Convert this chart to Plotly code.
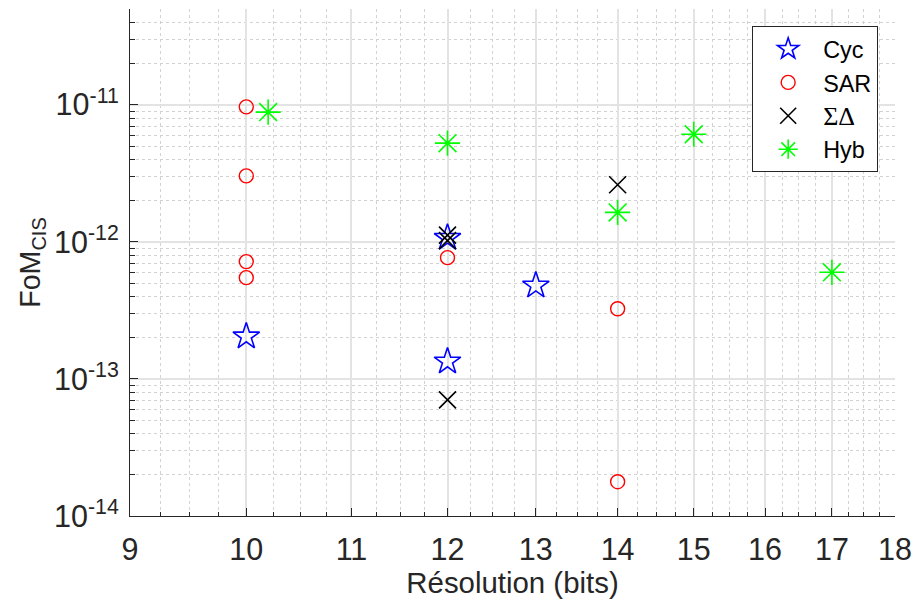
import numpy as np
import plotly.graph_objects as go

# Data
cyc_x = [10, 12, 12, 13]
cyc_y = [2.04e-13, 1.07e-12, 1.34e-13, 4.8e-13]

sar_x = [10, 10, 10, 10, 12, 14, 14]
sar_y = [9.66e-12, 3.03e-12, 7.18e-13, 5.48e-13, 7.67e-13, 3.25e-13, 1.78e-14]

sd_x = [12, 12, 12, 14]
sd_y = [1.12e-12, 1.02e-12, 7.03e-14, 2.61e-12]

hyb_x = [10.2, 12, 14, 15, 17]
hyb_y = [8.85e-12, 5.25e-12, 1.64e-12, 6.1e-12, 6.0e-13]

x_ticks = [9, 10, 11, 12, 13, 14, 15, 16, 17, 18]
y_ticks = [1e-14, 1e-13, 1e-12, 1e-11]
y_ticktext = ["10<sup>-14</sup>", "10<sup>-13</sup>", "10<sup>-12</sup>", "10<sup>-11</sup>"]

FONT = "Liberation Sans, Arial, Helvetica, sans-serif"
AX = "#262626"
TICK_SIZE = 30.5

fig = go.Figure()
fig.add_trace(go.Scatter(x=cyc_x, y=cyc_y, mode="markers", name="Cyc", legendgroup="a",
                         marker=dict(symbol="star-open", size=20, color="#0000ff",
                                     line=dict(width=1.6, color="#0000ff"))))
fig.add_trace(go.Scatter(x=sar_x, y=sar_y, mode="markers", name="SAR", legendgroup="b",
                         marker=dict(symbol="circle-open", size=14, color="#ff0000",
                                     line=dict(width=1.4, color="#ff0000"))))
fig.add_trace(go.Scatter(x=sd_x, y=sd_y, mode="markers", legendgroup="c",
                         name='<span style="font-family:Liberation Serif, Times New Roman, serif;font-size:26px">ΣΔ</span>',
                         marker=dict(symbol="x-thin-open", size=17, color="#000000",
                                     line=dict(width=1.6, color="#000000"))))
fig.add_trace(go.Scatter(x=hyb_x, y=hyb_y, mode="markers", name="Hyb", legendgroup="d",
                         marker=dict(symbol="asterisk-open", size=21, color="#00ff00",
                                     line=dict(width=1.6, color="#00ff00"))))

x_minor = [v for v in np.arange(9, 18.001, 0.25) if abs(v - round(v)) > 1e-9]
y_minor = [m * 10.0 ** e for e in range(-14, -10) for m in range(2, 10)]

fig.update_xaxes(type="log", range=[np.log10(9) - 1e-6, np.log10(18) + 1e-6],
                 tickmode="array", tickvals=x_ticks, ticktext=[str(v) for v in x_ticks],
                 ticks="inside", ticklen=8, tickwidth=1, tickcolor=AX,
                 showline=True, linecolor=AX, linewidth=1.2, mirror=False,
                 showgrid=True, gridcolor="#e3e3e3", gridwidth=1.5,
                 tickfont=dict(family=FONT, size=TICK_SIZE, color=AX),
                 ticklabelstandoff=6, automargin=False,
                 title=dict(text="Résolution (bits)", font=dict(family=FONT, size=29.4, color=AX),
                            standoff=5),
                 zeroline=False,
                 minor=dict(tickvals=x_minor, ticks="inside", ticklen=4, tickcolor=AX,
                            showgrid=True, gridcolor="#d2d2d2", griddash="dot", gridwidth=1))
fig.update_yaxes(type="log", range=[-14 - 1e-6, np.log10(5e-11)],
                 tickmode="array", tickvals=y_ticks, ticktext=y_ticktext,
                 ticks="inside", ticklen=8, tickwidth=1, tickcolor=AX,
                 showline=True, linecolor=AX, linewidth=1.2, mirror=False,
                 showgrid=True, gridcolor="#e3e3e3", gridwidth=1.5,
                 tickfont=dict(family=FONT, size=TICK_SIZE, color=AX),
                 ticklabelstandoff=4, automargin=False,
                 title=dict(text="FoM<sub>CIS</sub>", font=dict(family=FONT, size=28.6, color=AX),
                            standoff=4),
                 zeroline=False,
                 minor=dict(tickvals=y_minor, ticks="inside", ticklen=5, tickcolor=AX,
                            showgrid=True, gridcolor="#d2d2d2", griddash="dot", gridwidth=1))

fig.update_layout(
    width=914, height=606,
    margin=dict(l=130, r=19, t=9, b=90, autoexpand=False),
    paper_bgcolor="white", plot_bgcolor="white",
    font=dict(family=FONT, size=26, color="#000000"),
    showlegend=True,
    legend=dict(x=0.978, y=0.966, xanchor="right", yanchor="top",
                bgcolor="white", bordercolor=AX, borderwidth=1,
                font=dict(family=FONT, size=23.4, color="#000000"),
                itemsizing="trace", traceorder="grouped", tracegroupgap=0,
                itemwidth=60),
)

fig.write_html("out.html", config={"displayModeBar": False},
               post_script="document.body.style.margin='0px';")
